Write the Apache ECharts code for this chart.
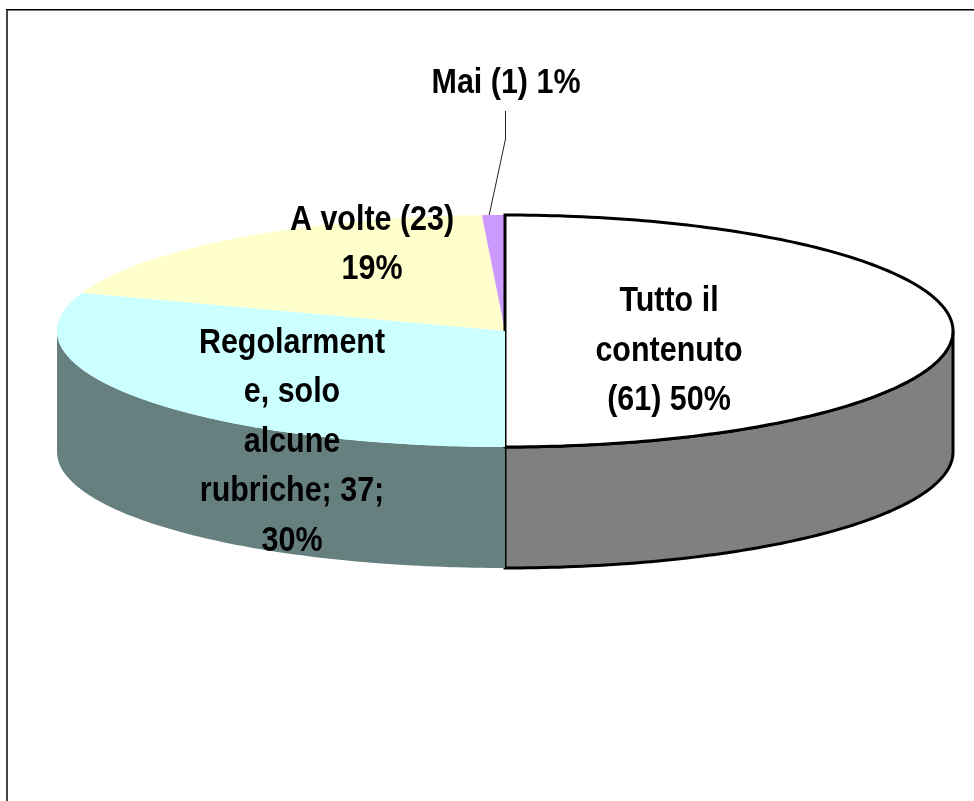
<!DOCTYPE html>
<html>
<head>
<meta charset="utf-8">
<style>
  html, body { margin: 0; padding: 0; background: #fff; }
  #chart { width: 974px; height: 801px; }
</style>
<script src="https://cdn.jsdelivr.net/npm/echarts@6/dist/echarts.min.js"></script>
</head>
<body>
<div id="chart"></div>
<script>
const categories = ["Tutto il contenuto", "Regolarmente, solo alcune rubriche", "A volte", "Mai"];
const values = [61, 37, 23, 1];
const labels = [
  "Tutto il\ncontenuto\n(61) 50%",
  "Regolarment\ne, solo\nalcune\nrubriche; 37;\n30%",
  "A volte (23)\n19%",
  "Mai (1) 1%",
];
const topColors = ["#ffffff", "#ccffff", "#ffffcc", "#cc99ff"];
const sideColors = ["#808080", "#668080", "#808066", "#664c80"];

// pie layout, the tilted ellipse is not something the pie series can do
const cx = 505;
const cy = 331;
const rx = 448;
const ry = 116;
const depth = 121;
const labelPos = [[669, 351], [292, 442], [372, 245], [506, 83]];
const topZ = [4, 5, 3, 3];
const total = values.reduce((a, b) => a + b, 0);

const arc = (from, to, dy) => {
  const pts = [];
  const steps = Math.max(2, Math.ceil((to - from) / (Math.PI / 180)));
  for (let i = 0; i <= steps; i++) {
    const a = from + ((to - from) * i) / steps;
    pts.push([cx + rx * Math.sin(a), cy + dy - ry * Math.cos(a)]);
  }
  return pts;
};

const renderSlice = (params, api) => {
  const idx = params.dataIndex;
  let before = 0;
  for (let i = 0; i < idx; i++) before += values[i];
  const start = (before / total) * Math.PI * 2;
  const end = ((before + api.value(0)) / total) * Math.PI * 2;
  const outlined = idx === 0;
  const children = [];

  // wall is only visible on the front half
  const wallFrom = Math.max(start, Math.PI / 2);
  const wallTo = Math.min(end, (Math.PI * 3) / 2);
  if (wallTo > wallFrom) {
    children.push({
      type: "polygon",
      z2: idx + 1,
      shape: { points: arc(wallFrom, wallTo, 0).concat(arc(wallFrom, wallTo, depth).reverse()) },
      style: {
        fill: sideColors[idx],
        stroke: outlined ? "#000" : null,
        lineWidth: outlined ? 3 : 0,
      },
    });
  }

  children.push({
    type: "polygon",
    z2: topZ[idx],
    shape: { points: [[cx, cy]].concat(arc(start, end, 0)) },
    style: {
      fill: topColors[idx],
      stroke: outlined ? "#000" : null,
      lineWidth: outlined ? 3 : 0,
    },
  });

  // no narrow font installed, squeeze the bold sans instead
  children.push({
    type: "text",
    z2: 20,
    x: labelPos[idx][0],
    y: labelPos[idx][1],
    scaleX: 0.87,
    style: {
      text: labels[idx],
      fill: "#000",
      fontFamily: "'Liberation Sans', Arial",
      fontWeight: "bold",
      fontSize: 35,
      lineHeight: 49.5,
      align: "center",
      verticalAlign: "middle",
    },
  });
  return { type: "group", children };
};

const chart = echarts.init(document.getElementById("chart"), null, { renderer: "canvas" });
chart.setOption({
  animation: false,
  tooltip: { show: false },
  graphic: [
    { type: "line", silent: true, shape: { x1: 6, y1: 9.5, x2: 974, y2: 9.5 }, style: { stroke: "#000", lineWidth: 1 } },
    { type: "line", silent: true, shape: { x1: 6, y1: 10.5, x2: 974, y2: 10.5 }, style: { stroke: "#777", lineWidth: 1 } },
    { type: "line", silent: true, shape: { x1: 7, y1: 10, x2: 7, y2: 801 }, style: { stroke: "#444", lineWidth: 2 } },
    { type: "polyline", silent: true, shape: { points: [[505.5, 111], [505.5, 139], [489, 216]] }, style: { stroke: "#222", lineWidth: 1, fill: null } },
  ],
  series: [
    {
      type: "custom",
      coordinateSystem: "none",
      silent: true,
      renderItem: renderSlice,
      data: categories.map((name, i) => ({ name, value: [values[i]] })),
    },
  ],
});
</script>
</body>
</html>
